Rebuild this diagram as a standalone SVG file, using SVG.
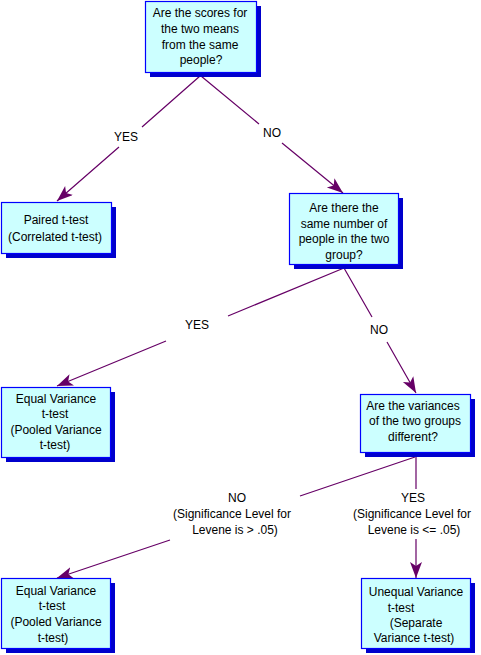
<svg xmlns="http://www.w3.org/2000/svg" width="481" height="655" viewBox="0 0 481 655">
<style>
.box{fill:#ccffff;stroke:#0000ff;stroke-width:1.2}
.sh{fill:#0000cc}
text{font-family:"Liberation Sans",Arial,sans-serif;font-size:12px;fill:#000;text-anchor:middle}
.edge{fill:none;stroke:#660066;stroke-width:1.2}
</style>
<defs>
<marker id="ah" markerUnits="userSpaceOnUse" markerWidth="18" markerHeight="14" refX="16" refY="6" orient="auto">
<path d="M0,0 L16,6 L0,12 L4,6 z" fill="#660066"/>
</marker>
</defs>
<rect width="481" height="655" fill="#fff"/>
<g id="connectors">
<path class="edge" d="M200,76 L142,127 M119,147 L57,201" marker-end="url(#ah)"/>
<path class="edge" d="M201,76 L259,124 M282,143 L343,193" marker-end="url(#ah)"/>
<path class="edge" d="M344,268 L228,316 M166,341 L57,386" marker-end="url(#ah)"/>
<path class="edge" d="M344,268 L372,317 M387,342 L416,393" marker-end="url(#ah)"/>
<path class="edge" d="M415,457 L300,496 M170,540 L57,578" marker-end="url(#ah)"/>
<path class="edge" d="M416,457 L416,489 M416,539 L416,578" marker-end="url(#ah)"/>
<text x="126" y="141">YES</text>
<text x="272" y="137">NO</text>
<text x="197" y="329">YES</text>
<text x="379" y="334">NO</text>
<text x="237" y="502">NO</text>
<text x="232" y="518">(Significance Level for</text>
<text x="235" y="534">Levene is &gt; .05)</text>
<text x="413" y="502">YES</text>
<text x="412" y="518">(Significance Level for</text>
<text x="414" y="534">Levene is &lt;= .05)</text>
</g>
<g id="n1">
<rect class="sh" x="150" y="6" width="111" height="71"/>
<rect class="box" x="145.5" y="1.5" width="111" height="71"/>
<text x="200" y="17">Are the scores for</text>
<text x="200" y="33">the two means</text>
<text x="200" y="48.5">from the same</text>
<text x="201" y="64">people?</text>
</g>
<g id="n2">
<rect class="sh" x="6" y="207" width="110" height="51"/>
<rect class="box" x="1.5" y="202.5" width="110" height="51"/>
<text x="56" y="224">Paired t-test</text>
<text x="55" y="241">(Correlated t-test)</text>
</g>
<g id="n3">
<rect class="sh" x="294" y="198" width="109" height="71"/>
<rect class="box" x="289.5" y="193.5" width="109" height="71"/>
<text x="344" y="212">Are there the</text>
<text x="344" y="227.5">same number of</text>
<text x="344" y="243">people in the two</text>
<text x="344" y="258.5">group?</text>
</g>
<g id="n4">
<rect class="sh" x="6" y="392" width="109" height="70"/>
<rect class="box" x="1.5" y="387.5" width="109" height="70"/>
<text x="56" y="403">Equal Variance</text>
<text x="55" y="418">t-test</text>
<text x="56" y="434">(Pooled Variance</text>
<text x="55" y="449">t-test)</text>
</g>
<g id="n5">
<rect class="sh" x="365" y="399" width="110" height="58"/>
<rect class="box" x="360.5" y="394.5" width="110" height="58"/>
<text x="413" y="410">Are the variances</text>
<text x="415" y="425">of the two groups</text>
<text x="413" y="441">different?</text>
</g>
<g id="n6">
<rect class="sh" x="6" y="583" width="109" height="70"/>
<rect class="box" x="1.5" y="578.5" width="109" height="70"/>
<text x="56" y="595">Equal Variance</text>
<text x="52" y="610">t-test</text>
<text x="56" y="626">(Pooled Variance</text>
<text x="53" y="642">t-test)</text>
</g>
<g id="n7">
<rect class="sh" x="366" y="583" width="109" height="70"/>
<rect class="box" x="361.5" y="578.5" width="109" height="70"/>
<text x="416" y="596">Unequal Variance</text>
<text x="401" y="612">t-test</text>
<text x="416" y="627">(Separate</text>
<text x="414" y="642">Variance t-test)</text>
</g>
</svg>
